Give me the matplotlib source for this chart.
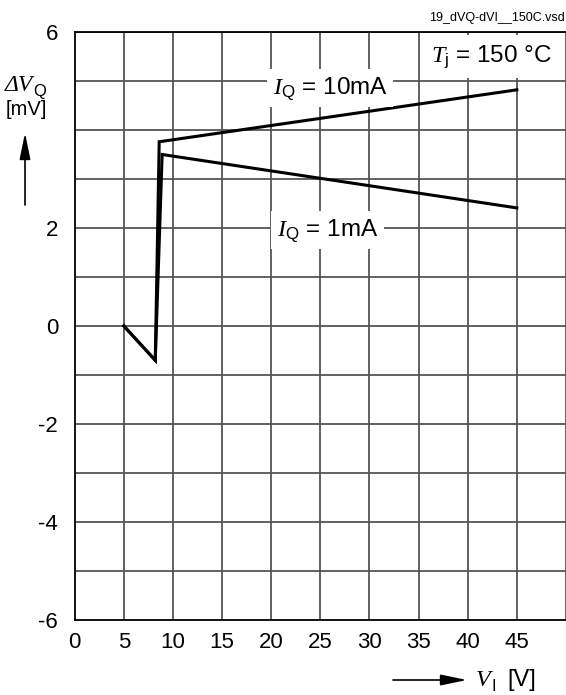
import matplotlib
matplotlib.use("Agg")
import matplotlib.pyplot as plt
from matplotlib.patches import FancyArrowPatch

plt.rcParams['font.family'] = ['Liberation Sans', 'DejaVu Sans']
plt.rcParams['mathtext.fontset'] = 'custom'
plt.rcParams['mathtext.it'] = 'Liberation Serif:italic'
plt.rcParams['mathtext.rm'] = 'Liberation Sans'
plt.rcParams['mathtext.sf'] = 'Liberation Sans'

# Curves: output voltage deviation vs. input voltage at Tj = 150 °C
vin_10ma = [5.0, 8.2, 8.6, 45.0]
dvq_10ma = [0.0, -0.7, 3.76, 4.82]
vin_1ma = [5.0, 8.2, 8.9, 45.0]
dvq_1ma = [0.0, -0.7, 3.5, 2.41]

x_ticks = [0, 5, 10, 15, 20, 25, 30, 35, 40, 45]
y_ticks = [-6, -4, -2, 0, 2, 6]
y_grid = list(range(-6, 7))
x_grid = list(range(0, 51, 5))

W, H = 566, 695
fig = plt.figure(figsize=(W / 100, H / 100), dpi=100)
ax = fig.add_axes([74.7 / W, 1 - 620 / H, 1 - 74.7 / W, (620 - 32) / H])

ax.set_xlim(0, 50)
ax.set_ylim(-6, 6)

grid_kw = dict(color='#555555', lw=1.3, zorder=1)
for gx in x_grid[1:]:
    ax.axvline(gx, **grid_kw)
for gy in y_grid[1:]:
    ax.axhline(gy, **grid_kw)

ax.spines['right'].set_visible(False)
for s in ['left', 'bottom', 'top']:
    ax.spines[s].set_linewidth(1.3)
    ax.spines[s].set_color('black')

ax.set_xticks(x_ticks)
ax.set_xticklabels([str(v) for v in x_ticks])
ax.set_yticks(y_ticks)
ax.set_yticklabels([str(v) for v in y_ticks])
ax.tick_params(length=0, labelsize=16, pad=9)
ax.tick_params(axis='y', pad=12)

ax.plot(vin_10ma, dvq_10ma, color='black', lw=2.2, solid_joinstyle='miter', zorder=3)
ax.plot(vin_1ma, dvq_1ma, color='black', lw=2.2, solid_joinstyle='miter', zorder=3)

box = dict(facecolor='white', edgecolor='none', pad=4)
ax.text(26.0, 4.85, r'$I_{\mathrm{Q}}$ = 10mA', fontsize=17.5, ha='center', va='center',
        bbox=box, zorder=4)
ax.text(25.7, 1.95, r'$I_{\mathrm{Q}}$ = 1mA', fontsize=17.5, ha='center', va='center',
        bbox=box, zorder=4)
ax.text(42.4, 5.5, r'$T_{\mathrm{j}}$ = 150 °C', fontsize=17.5, ha='center', va='center',
        bbox=dict(facecolor='white', edgecolor='none', pad=6), zorder=4)

fig.text(565 / W, 1 - 18 / H, '19_dVQ-dVI__150C.vsd', fontsize=9, ha='right', va='center')

# y-axis quantity: italic serif "ΔV" with sans subscript "Q"
dv = fig.text(5 / W, 1 - 91 / H, 'ΔV', fontsize=17, family='Liberation Serif',
              style='italic', ha='left', va='baseline')
fig.canvas.draw()
dv_ext = dv.get_window_extent()
fig.text((dv_ext.x1 + 0.5) / W, 1 - 96 / H, 'Q', fontsize=12, ha='left', va='baseline')
fig.text(6 / W, 1 - 115 / H, '[mV]', fontsize=14.5, ha='left', va='baseline')
fig.add_artist(FancyArrowPatch(
    (25 / W, 1 - 205 / H), (25 / W, 1 - 133 / H), transform=fig.transFigure,
    arrowstyle='-|>,head_length=16,head_width=3.3', color='black', lw=1.2,
    shrinkA=0, shrinkB=0))

# x-axis quantity with rightward arrow
fig.add_artist(FancyArrowPatch(
    (393 / W, 1 - 680 / H), (467 / W, 1 - 680 / H), transform=fig.transFigure,
    arrowstyle='-|>,head_length=16,head_width=3.3', color='black', lw=1.2,
    shrinkA=0, shrinkB=0))
vi = fig.text(476 / W, 1 - 686 / H, 'V', fontsize=17.5, family='Liberation Serif',
              style='italic', ha='left', va='baseline')
fig.canvas.draw()
vi_ext = vi.get_window_extent()
fig.text((vi_ext.x1 + 0.5) / W, 1 - 691 / H, 'I', fontsize=11.5, ha='left', va='baseline')
fig.text(507 / W, 1 - 686 / H, '[V]', fontsize=17, ha='left', va='baseline')

fig.savefig('out.png', dpi=100)
